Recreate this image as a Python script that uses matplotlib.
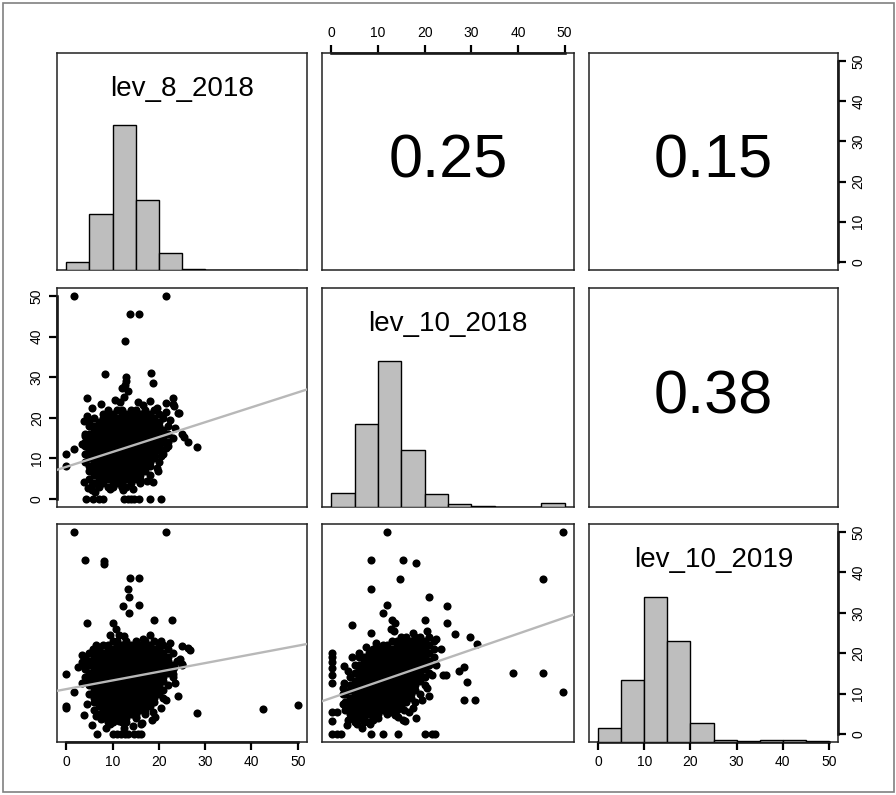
import numpy as np
import matplotlib.pyplot as plt
from matplotlib.patches import Rectangle

plt.rcParams['font.family'] = ['Liberation Sans', 'DejaVu Sans']

names = ['lev_8_2018', 'lev_10_2018', 'lev_10_2019']
ticks = [0, 10, 20, 30, 40, 50]
breaks = [0, 5, 10, 15, 20, 25, 30, 35, 40, 45, 50]

# histogram bar heights relative to the tallest bar (one per 5-unit bin)
hist_8_2018 = [0.053, 0.386, 1.0, 0.487, 0.115, 0.007, 0, 0, 0, 0]
hist_10_2018 = [0.098, 0.566, 1.0, 0.388, 0.091, 0.021, 0.009, 0, 0, 0.027]
hist_10_2019 = [0.099, 0.427, 1.0, 0.693, 0.128, 0.011, 0.005, 0.016, 0.016, 0.009]

# correlations shown in the upper panels
r_8_10 = '0.25'
r_8_1019 = '0.15'
r_10_1019 = '0.38'

# fitted lines (intercept, slope)
fit_a = (7.9, 0.367)   # lev_10_2018 ~ lev_8_2018
fit_b = (11.1, 0.215)  # lev_10_2019 ~ lev_8_2018
fit_c = (8.9, 0.398)   # lev_10_2019 ~ lev_10_2018

# ---- scatter: lev_8_2018 (x) vs lev_10_2018 (y) ----
a_x = [1.7, 21.5, 13.8, 15.7, 12.6, 8.4, 13.0, 12.9, 12.7, 12.0, 13.4, 18.2, 18.7,
       4.4, 18.1, 23.0, 23.0, 21.6, 24.1, 5.5, 3.8, 4.0, -0.1, 1.7, 0.0, 3.9, 4.7,
       5.6, 6.2, 25.1, 25.5, 26.4, 28.3, 18.8, 19.9, 12.3, 12.0, 12.4, 23.2, 24.3,
       7.5, 10.5, 16.5, 19.5, 21.5, 3.5, 4.5, 22.5, 23.5, 20.5, 21.5, 19.5, 17.5,
       5.5, 9.5, 14.5, 11.5, 15.5,
       4.3, 5.7, 7.0, 7.9, 12.5, 13.3, 13.9, 14.6, 15.7, 18.1, 20.5]
a_y = [50, 50, 45.6, 45.6, 39.0, 30.8, 30.1, 29.0, 28.0, 27.3, 26.7, 31.1, 28.6,
       25.0, 24.2, 24.8, 23.4, 23.6, 21.3, 22.3, 19.3, 15.6, 11.0, 12.2, 8.1, 4.2, 2.6,
       2.3, 1.8, 16.0, 15.3, 14.1, 12.9, 4.2, 7.0, 2.2, 2.9, 25.2, 22.8, 21.3,
       23.5, 24.3, 23.2, 22.5, 21.5, 13.5, 20.5, 19.5, 17.5, 10.5, 12.5, 7.5, 4.5,
       3.5, 2.5, 2.5, 23.8, 24.0,
       0, 0, 0, 0, 0, 0, 0, 0, 0, 0, 0]
a_core = {
    22: [9, 11, 12, 14, 15, 17, 19],
    21: [8, 9, 10, 12, 13, 14, 15, 16, 17, 18, 20],
    20: [6, 8, 9, 10, 11, 12, 13, 14, 15, 16, 17, 18, 19, 21],
    19: [5, 7, 8, 9, 10, 11, 12, 13, 14, 15, 16, 17, 18, 19, 20],
    18: [5, 6, 7, 8, 9, 10, 11, 12, 13, 14, 15, 16, 17, 18, 19, 20, 22],
    17: [6, 7, 8, 9, 10, 11, 12, 13, 14, 15, 16, 17, 18, 19, 20, 21],
    16: [4, 5, 6, 7, 8, 9, 10, 11, 12, 13, 14, 15, 16, 17, 18, 19, 20, 21, 22],
    15: [5, 6, 7, 8, 9, 10, 11, 12, 13, 14, 15, 16, 17, 18, 19, 20, 21, 23],
    14: [4, 5, 6, 7, 8, 9, 10, 11, 12, 13, 14, 15, 16, 17, 18, 19, 20, 21, 22],
    13: [4, 5, 6, 7, 8, 9, 10, 11, 12, 13, 14, 15, 16, 17, 18, 19, 20, 22],
    12: [5, 6, 7, 8, 9, 10, 11, 12, 13, 14, 15, 16, 17, 18, 19, 20],
    11: [4, 5, 6, 7, 8, 9, 10, 11, 12, 13, 14, 15, 16, 17, 18, 19, 21],
    10: [5, 6, 7, 8, 9, 10, 11, 12, 13, 14, 15, 16, 17, 18, 19],
    9: [4, 6, 7, 8, 9, 10, 11, 12, 13, 14, 15, 16, 17, 18, 20],
    8: [5, 6, 7, 8, 9, 10, 11, 12, 13, 14, 15, 16, 17, 18],
    7: [5, 6, 7, 8, 9, 10, 11, 12, 13, 14, 15, 16, 17],
    6: [6, 7, 8, 9, 10, 11, 12, 13, 14, 15, 16, 18],
    5: [5, 7, 8, 9, 10, 11, 12, 13, 14, 15, 16],
    4: [6, 7, 8, 10, 11, 12, 14, 16],
    3: [7, 9, 10, 12, 13],
}

# ---- scatter: lev_8_2018 (x) vs lev_10_2019 (y) ----
b_x = [1.7, 21.5, 4.1, 8.1, 8.1, 13.8, 15.7, 13.4, 13.5, 12.3, 15.7, 13.5, 4.5,
       19.0, 22.8, 10.0, 10.8, 11.3, -0.1, -0.1, -0.1, 1.7, 3.8, 5.5, 6.7, 28.3,
       42.5, 50.0, 24.2, 23.0, 26.4, 26.7, 24.9, 24.9, 25.0, 5.7, 5.7, 3.3, 18.8,
       19.2, 15.1, 16.1, 9.4, 7.5, 11.3, 16.3, 23.2,
       9.5, 12.5, 16.5, 20.5, 22.5, 6.5, 3.5, 2.5, 3.5, 4.5, 24.5, 23.5, 21.5,
       20.5, 18.5, 6.5, 8.5, 12.5, 14.5, 18.0,
       10.2, 11.0, 11.8, 12.6, 13.4, 14.6, 15.4, 16.2]
b_y = [50, 50, 43.0, 42.8, 42.2, 38.6, 38.6, 35.8, 33.9, 31.8, 32.0, 30.0, 27.5,
       28.1, 28.1, 27.5, 26.0, 24.4, 14.9, 7.0, 6.4, 10.5, 4.8, 2.2, 0, 5.1,
       6.2, 7.2, 9.3, 14.9, 21.2, 20.8, 21.9, 17.4, 17.1, 21.1, 20.1, 17.8, 5.4,
       4.1, 4.1, 2.5, 2.5, 3.7, 3.3, 2.7, 16.5,
       24.5, 24.2, 23.5, 23.0, 22.5, 22.0, 19.5, 16.5, 12.5, 7.5, 18.5, 12.5, 8.5,
       6.5, 3.5, 4.5, 1.5, 1.5, 2.0, 24.6,
       0, 0, 0, 0, 0, 0, 0, 0]
b_core = {
    23: [10, 11, 13, 15, 17, 19],
    22: [8, 9, 11, 12, 13, 14, 15, 16, 17, 18, 20, 21],
    21: [7, 9, 10, 11, 12, 13, 14, 15, 16, 17, 18, 19, 20, 22],
    20: [5, 7, 8, 9, 10, 11, 12, 13, 14, 15, 16, 17, 18, 19, 20, 21, 23],
    19: [4, 6, 7, 8, 9, 10, 11, 12, 13, 14, 15, 16, 17, 18, 19, 20, 21, 22],
    18: [5, 6, 7, 8, 9, 10, 11, 12, 13, 14, 15, 16, 17, 18, 19, 20, 21, 22, 24],
    17: [4, 5, 6, 7, 8, 9, 10, 11, 12, 13, 14, 15, 16, 17, 18, 19, 20, 21, 22, 23],
    16: [4, 6, 7, 8, 9, 10, 11, 12, 13, 14, 15, 16, 17, 18, 19, 20, 21, 22, 23],
    15: [5, 6, 7, 8, 9, 10, 11, 12, 13, 14, 15, 16, 17, 18, 19, 20, 21, 22],
    14: [4, 5, 6, 7, 8, 9, 10, 11, 12, 13, 14, 15, 16, 17, 18, 19, 20, 21, 23],
    13: [5, 6, 7, 8, 9, 10, 11, 12, 13, 14, 15, 16, 17, 18, 19, 20, 21],
    12: [5, 6, 7, 8, 9, 10, 11, 12, 13, 14, 15, 16, 17, 18, 19, 20, 22],
    11: [6, 7, 8, 9, 10, 11, 12, 13, 14, 15, 16, 17, 18, 19, 20, 21],
    10: [5, 6, 7, 8, 9, 10, 11, 12, 13, 14, 15, 16, 17, 18, 19, 20],
    9: [6, 7, 8, 9, 10, 11, 12, 13, 14, 15, 16, 17, 18, 19, 21],
    8: [6, 7, 8, 9, 10, 11, 12, 13, 14, 15, 16, 17, 18, 19],
    7: [7, 8, 9, 10, 11, 12, 13, 14, 15, 16, 17, 18],
    6: [6, 8, 9, 10, 11, 12, 13, 14, 15, 16, 17],
    5: [7, 8, 9, 10, 11, 12, 13, 14, 15, 17],
    4: [8, 9, 10, 11, 12, 13, 15],
    3: [9, 10, 12, 13],
}

# ---- scatter: lev_10_2018 (x) vs lev_10_2019 (y) ----
c_x = [12.0, 49.7, 45.3, 8.6, 15.4, 18.1, 14.8, 8.4, 20.9, 12.0, 24.8, 11.1, 13.1,
       13.6, 20.0, 24.8, 4.4, 12.7, 8.6, 26.5, 29.7, 31.3, 39.0, 45.3, 49.7, 28.5,
       30.8, 29.0, 28.5, 27.3, 21.0, 24.5, 24.0,
       0.2, 0.2, 0.2, 0.2, 0.2, 0.2, 0.2, 0.2, 0.2,
       2.8, 2.8, 1.3, 2.0, 1.2, 2.4, 3.4, 5.4, 5.5, 8.2, 8.9, 12.9, 13.6, 14.3,
       15.4, 15.7, 18.1, 16.7, 11.2,
       13.5, 17.5, 20.5, 22.5, 23.5, 9.5, 7.5, 4.5, 3.5, 2.5, 2.5, 22.5, 21.5,
       20.5, 19.5, 17.5, 15.5, 3.5, 6.5,
       8.4, 11.1, 14.2, 20.0, 21.6, 22.3]
c_y = [50, 50, 38.4, 43.0, 43.0, 42.3, 38.4, 35.8, 33.9, 32.0, 31.7, 30.0, 28.1,
       27.5, 28.1, 27.4, 26.9, 25.9, 25.0, 24.8, 23.9, 22.3, 15.1, 15.1, 10.3, 8.4,
       8.4, 12.8, 16.7, 15.5, 9.3, 14.6, 14.6,
       20.1, 19.0, 17.8, 16.3, 14.7, 12.6, 5.4, 3.3, 0,
       16.9, 12.6, 0, 0, 5.4, 9.9, 2.2, 2.5, 4.3, 2.5, 3.5, 5.4, 4.8, 4.1,
       3.5, 3.3, 3.9, 5.4, 6.0,
       25.5, 25.0, 25.5, 23.5, 21.0, 22.5, 21.5, 19.0, 15.5, 11.5, 7.5, 17.0, 14.5,
       11.5, 8.5, 6.5, 6.0, 3.5, 1.5,
       0, 0, 0, 0, 0, 0]
c_core = {
    24: [15, 16, 18, 19, 21],
    23: [13, 14, 15, 16, 17, 18, 19, 20, 22],
    22: [11, 12, 14, 15, 16, 17, 18, 19, 20, 21],
    21: [9, 10, 11, 12, 13, 14, 15, 16, 17, 18, 19, 20, 22],
    20: [6, 8, 9, 10, 11, 12, 13, 14, 15, 16, 17, 18, 19, 20, 21],
    19: [6, 7, 8, 9, 10, 11, 12, 13, 14, 15, 16, 17, 18, 19, 20, 22],
    18: [7, 8, 9, 10, 11, 12, 13, 14, 15, 16, 17, 18, 19, 20, 21],
    17: [5, 6, 7, 8, 9, 10, 11, 12, 13, 14, 15, 16, 17, 18, 19, 20, 21],
    16: [6, 7, 8, 9, 10, 11, 12, 13, 14, 15, 16, 17, 18, 19, 20],
    15: [5, 6, 7, 8, 9, 10, 11, 12, 13, 14, 15, 16, 17, 18, 19, 21],
    14: [4, 6, 7, 8, 9, 10, 11, 12, 13, 14, 15, 16, 17, 18, 19, 20],
    13: [5, 6, 7, 8, 9, 10, 11, 12, 13, 14, 15, 16, 17, 18, 19],
    12: [4, 5, 6, 7, 8, 9, 10, 11, 12, 13, 14, 15, 16, 17, 18, 20],
    11: [4, 5, 6, 7, 8, 9, 10, 11, 12, 13, 14, 15, 16, 17, 18],
    10: [3, 5, 6, 7, 8, 9, 10, 11, 12, 13, 14, 15, 16, 17, 19],
    9: [4, 5, 6, 7, 8, 9, 10, 11, 12, 13, 14, 15, 16, 17],
    8: [3, 4, 5, 6, 7, 8, 9, 10, 11, 12, 13, 14, 15, 16, 18],
    7: [4, 5, 6, 7, 8, 9, 10, 11, 12, 13, 14, 15],
    6: [3, 4, 5, 6, 7, 8, 9, 10, 11, 12, 14],
    5: [4, 5, 6, 7, 8, 9, 10, 12],
    4: [4, 5, 6, 7, 9, 10],
    3: [5, 7, 8],
}


def points(sx, sy, core):
    xs = list(sx)
    ys = list(sy)
    for yv, row in core.items():
        xs += row
        ys += [yv] * len(row)
    return np.array(xs, float), np.array(ys, float)


W, H = 896, 795
fig = plt.figure(figsize=(W / 100, H / 100), dpi=100)

cols = [(57, 307), (322, 574), (589, 838)]
rows = [(53, 270), (288, 507), (524, 742)]

axes = {}
for i, (t, b) in enumerate(rows):
    for j, (l, r) in enumerate(cols):
        ax = fig.add_axes([l / W, 1 - b / H, (r - l) / W, (b - t) / H])
        ax.set_xlim(-2, 52)
        ax.set_ylim(-2, 52)
        ax.set_xticks([])
        ax.set_yticks([])
        for s in ax.spines.values():
            s.set_linewidth(1.1)
            s.set_color('#222222')
        axes[i, j] = ax

tick_kw = dict(direction='out', length=6, width=1.6, pad=3.5, labelsize=10,
               colors='black')


def bold_axis(ax, side):
    # R draws the axis line only between the first and last tick
    if side == 'bottom':
        ax.plot([0, 50], [-2, -2], color='black', lw=1.8, clip_on=False)
    elif side == 'top':
        ax.plot([0, 50], [52, 52], color='black', lw=1.8, clip_on=False)
    elif side == 'left':
        ax.plot([-2, -2], [0, 50], color='black', lw=1.8, clip_on=False)
    else:
        ax.plot([52, 52], [0, 50], color='black', lw=1.8, clip_on=False)


def x_ticks(ax, top=False):
    ax.set_xticks(ticks)
    ax.tick_params(axis='x', top=top, bottom=not top, labeltop=top,
                   labelbottom=not top, **tick_kw)
    bold_axis(ax, 'top' if top else 'bottom')


def y_ticks(ax, right=False):
    ax.set_yticks(ticks)
    ax.tick_params(axis='y', right=right, left=not right, labelright=right,
                   labelleft=not right, **tick_kw)
    for lab in ax.get_yticklabels():
        lab.set_rotation(90)
        lab.set_va('center')
    bold_axis(ax, 'right' if right else 'left')


# diagonal histograms
hists = [hist_8_2018, hist_10_2018, hist_10_2019]
for k in range(3):
    ax = axes[k, k]
    hx = ax.twinx()
    hx.set_ylim(0, 1.5)
    hx.set_yticks([])
    hx.bar(breaks[:-1], hists[k], width=5, align='edge', color='#bebebe',
           edgecolor='black', linewidth=1.0)
    hx.text(0.5, 0.835, names[k], transform=hx.transAxes, ha='center',
            va='center', fontsize=20)
    for s in hx.spines.values():
        s.set_visible(False)

# correlation panels
for (i, j), txt in [((0, 1), r_8_10), ((0, 2), r_8_1019), ((1, 2), r_10_1019)]:
    axes[i, j].text(0.5, 0.5, txt, transform=axes[i, j].transAxes,
                    ha='center', va='center', fontsize=44)

# scatter panels
for (i, j), (sx, sy, core), (b0, m) in [
        ((1, 0), (a_x, a_y, a_core), fit_a),
        ((2, 0), (b_x, b_y, b_core), fit_b),
        ((2, 1), (c_x, c_y, c_core), fit_c)]:
    ax = axes[i, j]
    px, py = points(sx, sy, core)
    ax.scatter(px, py, s=34, c='black', linewidths=0, zorder=2)
    ax.axline((0, b0), slope=m, color='#b8b8b8', lw=1.7, zorder=3)

# outer axes, as in pairs()
x_ticks(axes[2, 0])
x_ticks(axes[2, 2])
x_ticks(axes[0, 1], top=True)
y_ticks(axes[1, 0])
y_ticks(axes[0, 2], right=True)
y_ticks(axes[2, 2], right=True)

fig.add_artist(Rectangle((3 / W, 3 / H), 891 / W, 789 / H, transform=fig.transFigure,
                         fill=False, edgecolor='#808080', linewidth=1.2))

fig.savefig('out.png', dpi=100)
